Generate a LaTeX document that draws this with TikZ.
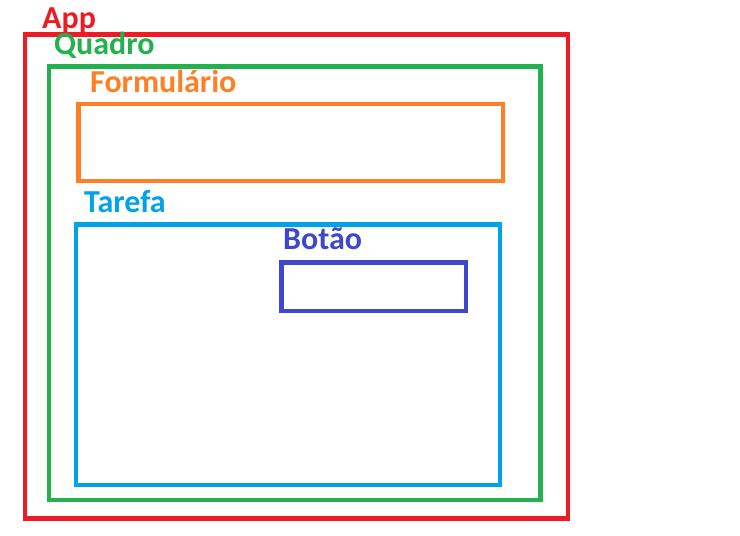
\documentclass[tikz,border=0pt]{standalone}
\usepackage{fontspec}
\setmainfont{Carlito}

\definecolor{appred}{RGB}{237,28,36}
\definecolor{quadrogreen}{RGB}{34,177,76}
\definecolor{formorange}{RGB}{255,127,39}
\definecolor{tarefablue}{RGB}{0,162,232}
\definecolor{botaoblue}{RGB}{63,72,204}

\tikzset{
	box/.style={line width=4.5pt},
	tag/.style={anchor=base west, inner sep=0pt, font=\fontsize{32}{35}\selectfont\bfseries}
}

\begin{document}
\begin{tikzpicture}[x=1pt,y=-1pt]
	\useasboundingbox (0,0) rectangle (740,536);
	% caixas
	\draw[box, appred] (25,34.5) rectangle (568,518.5);
	\draw[box, quadrogreen] (49,66.5) rectangle (540.5,500);
	\draw[box, formorange] (78.5,104) rectangle (503,181);
	\draw[box, tarefablue] (76,224.5) rectangle (500,485);
	\draw[box, botaoblue] (281.5,262.5) rectangle (466,311);
	% nomes
	\node[tag, text=appred] (app) at (42,28) {App};
	\node[tag, text=quadrogreen] (quadro) at (54,54) {Quadro};
	\node[tag, text=formorange] (formulario) at (90,92) {Formulário};
	\node[tag, text=tarefablue] (tarefa) at (84,212) {Tarefa};
	\node[tag, text=botaoblue] (botao) at (283,249) {Botão};
\end{tikzpicture}
\end{document}
